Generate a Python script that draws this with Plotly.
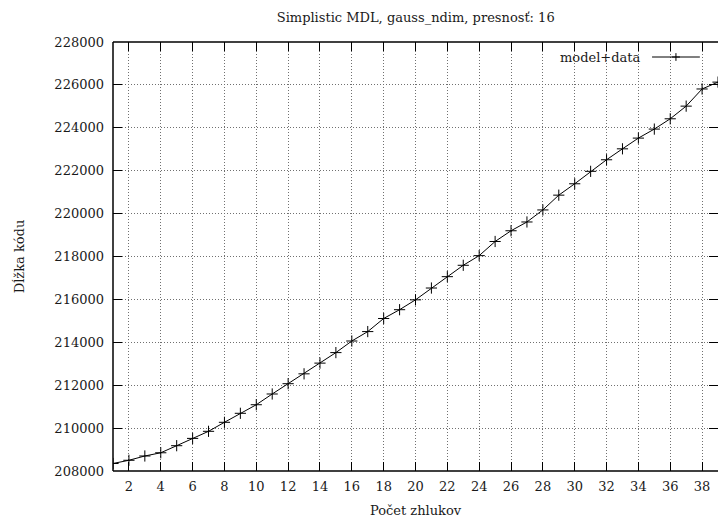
import plotly.graph_objects as go

# Code length of model+data versus number of clusters
clusters = list(range(1, 40))
code_length = [
    208350, 208500, 208700, 208850, 209180, 209520, 209850, 210270, 210690, 211090,
    211590, 212070, 212530, 213030, 213520, 214060, 214500, 215110, 215520, 215980,
    216530, 217060, 217590, 218040, 218700, 219200, 219610, 220170, 220860, 221390,
    221970, 222510, 223020, 223520, 223940, 224420, 225010, 225810, 226130,
]

x_ticks = list(range(2, 40, 2))
y_ticks = list(range(208000, 228001, 2000))

title_text = "Simplistic MDL, gauss_ndim, presnosť: 16"
x_title = "Počet zhlukov"
y_title = "Dĺžka kódu"
series_name = "model+data"

FONT = "DejaVu Serif"
fs = 13
TXT = "#1a1a1a"

fig = go.Figure()
fig.add_trace(go.Scatter(
    x=clusters, y=code_length, mode="lines+markers", name=series_name,
    line=dict(color="black", width=1),
    marker=dict(symbol="cross-thin", size=8, line=dict(color="black", width=1)),
    showlegend=False,
))

axis_common = dict(
    showline=False, zeroline=False, mirror="ticks",
    ticks="inside", ticklen=9, tickwidth=1.3, tickcolor="black",
    showgrid=True, gridcolor="#707070", griddash="1px,2px", gridwidth=1,
    tickfont=dict(family=FONT, size=fs, color=TXT),
)

fig.update_xaxes(
    range=[1, 39], tickvals=x_ticks, ticktext=[str(v) for v in x_ticks],
    ticklabelstandoff=6,
    title=dict(text=x_title, font=dict(family=FONT, size=fs, color=TXT), standoff=13),
    **axis_common,
)
fig.update_yaxes(
    range=[208000, 228000], tickvals=y_ticks, ticktext=[str(v) for v in y_ticks],
    ticklabelstandoff=8,
    title=dict(text=y_title, font=dict(family=FONT, size=fs, color=TXT), standoff=26),
    **axis_common,
)

# Plot border: left, bottom, top
for x0, y0, x1, y1 in [(0, 0, 0, 1), (0, 0, 1, 0), (0, 1, 1, 1)]:
    fig.add_shape(type="line", xref="paper", yref="paper", x0=x0, y0=y0, x1=x1, y1=y1,
                  line=dict(color="black", width=1.5))

# Key in the upper right corner: label followed by a line sample with a marker
fig.add_annotation(xref="paper", yref="paper", x=0.876, y=0.965, xanchor="right",
                   yanchor="middle", text=series_name, showarrow=False,
                   font=dict(family=FONT, size=fs, color=TXT))
fig.add_shape(type="line", xref="paper", yref="paper", x0=0.891, x1=0.970,
              y0=0.965, y1=0.965, line=dict(color="black", width=1))
fig.add_shape(type="line", xref="paper", yref="paper", x0=0.924, x1=0.937,
              y0=0.965, y1=0.965, line=dict(color="black", width=1))
fig.add_shape(type="line", xref="paper", yref="paper", x0=0.9305, x1=0.9305,
              y0=0.956, y1=0.974, line=dict(color="black", width=1))

fig.update_layout(
    width=718, height=518,
    margin=dict(l=113, r=0, t=42, b=47),
    paper_bgcolor="white", plot_bgcolor="white",
    title=dict(text=title_text, x=0.579, xanchor="center", y=0.967, yanchor="middle",
               font=dict(family=FONT, size=fs, color=TXT)),
    showlegend=False,
)

fig.write_html("out.html")
